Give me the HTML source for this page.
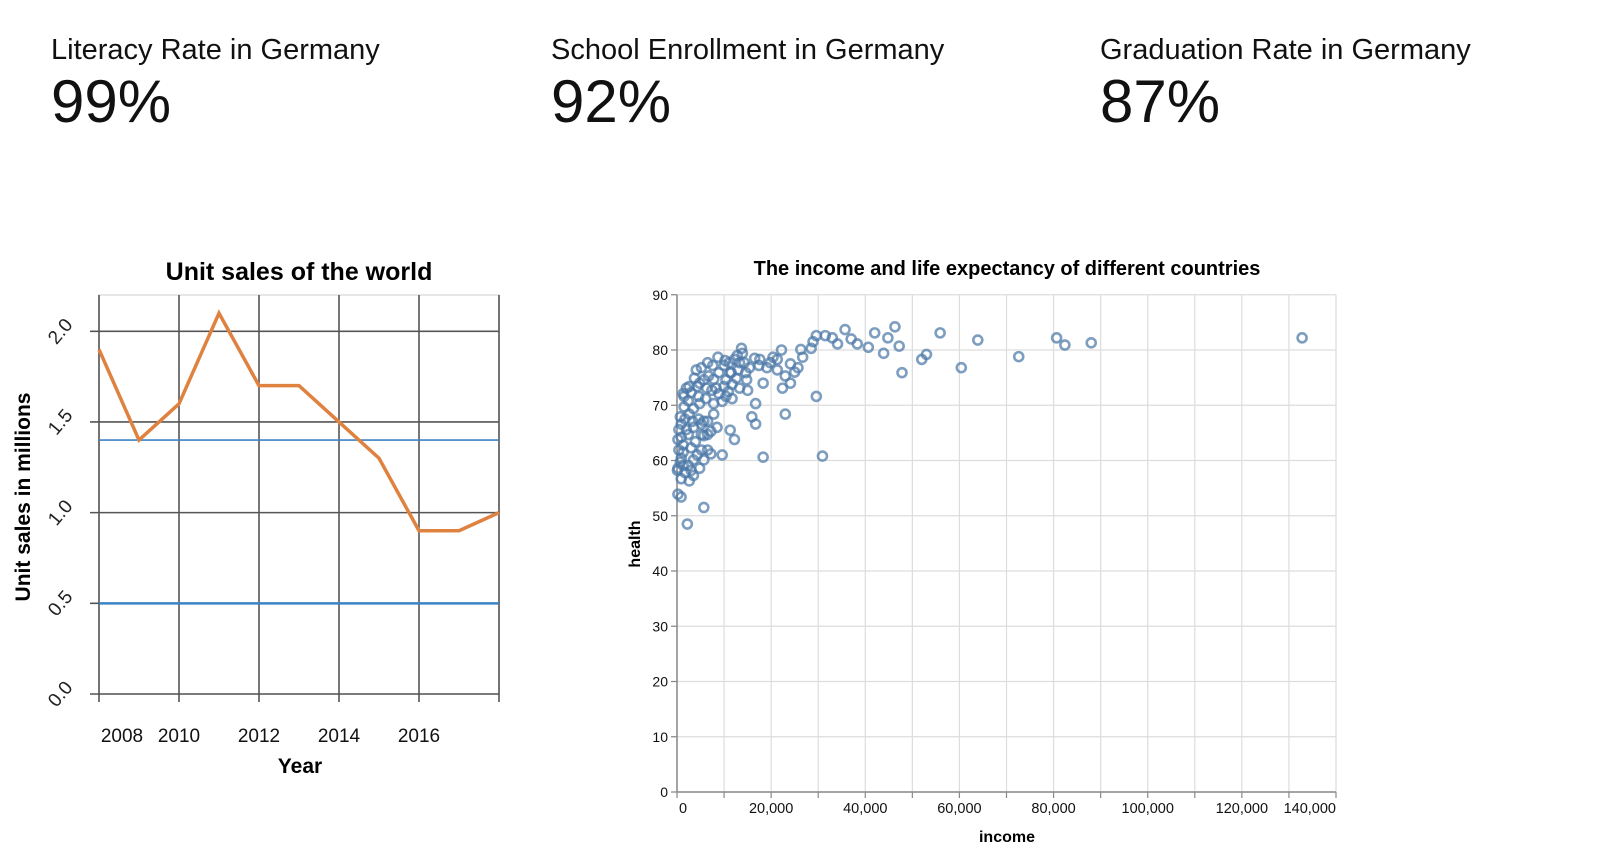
<!DOCTYPE html>
<html><head><meta charset="utf-8">
<style>
html,body{margin:0;padding:0;background:#fff;width:1600px;height:850px;overflow:hidden;font-family:"Liberation Sans",sans-serif;}
.kpi{position:absolute;top:33px;color:#111;}
.kpi .lbl{font-size:29px;line-height:34px;}
.kpi .val{font-size:60px;line-height:60px;margin-top:5px;}
svg{position:absolute;left:0;top:0;}
</style></head>
<body>
<div class="kpi" style="left:51px"><div class="lbl">Literacy Rate in Germany</div><div class="val">99%</div></div>
<div class="kpi" style="left:551px"><div class="lbl">School Enrollment in Germany</div><div class="val">92%</div></div>
<div class="kpi" style="left:1100px"><div class="lbl">Graduation Rate in Germany</div><div class="val">87%</div></div>

<svg id="chart" width="1600" height="850"></svg>
<script>
const years=[2008,2009,2010,2011,2012,2013,2014,2015,2016,2017,2018];
const sales=[1.9,1.4,1.6,2.1,1.7,1.7,1.5,1.3,0.9,0.9,1.0];
const refLines=[1.4,0.5];
const salesYTicks=[0,0.5,1.0,1.5,2.0];
const yearTicks=[2008,2010,2012,2014,2016];

const income=[132800,88000,82400,80650,72600,63900,60400,55900,53000,52000,47800,47200,46300,44800,43900,42000,40650,38300,37000,35700,34100,33000,31500,29600,28900,28500,30900,29600,26700,26300,25700,25000,24100,23000,22400,22200,21300,20400,18300,16700,16700,16500,15900,15000,14600,13700,12200,11300,9600,7200,5700,2200,870,200,
1300,2000,3000,4300,5700,6700,7800,8900,10000,11100,12200,13300,10400,11700,12600,7400,6100,4800,3500,2600,1700,900,400,900,1300,400,900,1300,200,1700,2400,3500,4300,3000,2400,3500,4600,5700,5200,3900,6500,5700,4800,3000,3500,2600,900,100,700,1300,2000,3300,5200,6500,7200,8500,5700,4600,7800,8900,10000,10900,9600,8300,11300,13000,14300,15400,17400,18300,19100,17600,14800,13300,11700,10400,7800,6500,5200,200,700,1500,2400,4100,4800,6300,7600,8700,10200,11500,12800,13900,19800,21300,23000,24100,5200,6500,3700,2600,1500];
const health=[82.2,81.3,80.9,82.2,78.8,81.8,76.8,83.1,79.2,78.3,75.9,80.7,84.2,82.2,79.4,83.1,80.5,81.1,82,83.7,81.1,82.2,82.6,82.6,81.5,80.3,60.8,71.6,78.7,80.1,76.8,76,77.5,68.4,73.1,80,78.3,78.7,60.6,70.3,66.6,78.5,67.9,72.7,75.9,80.3,63.8,65.5,61,61.2,51.5,48.5,53.4,53.9,
72.1,73.1,72.3,73.4,74.6,75.3,74.7,75.9,77.2,77.7,78.3,77.7,74.6,73.8,74.9,72.7,71.2,70.3,69.4,68.4,67.5,66.6,65.6,64.2,62.8,61.9,60.4,59.1,58.6,57.8,59.1,60.1,61,62.3,64.7,66,67.5,67.1,64.7,63.4,61.9,60.1,58.6,58.2,57.3,56.3,56.7,58.2,59.7,61.5,65.6,67.1,66.6,67.1,65.3,66,64.5,71.6,70.3,72.1,73.4,72.5,70.7,73.1,75.9,76.4,77.7,76.8,77.2,74,76.8,78.3,74.6,73.1,71.2,71.6,68.4,64.7,61.9,63.8,67.9,69.7,70.8,76.4,74,73.1,77.2,78.7,78.1,75.9,79,79.4,77.7,76.4,75.3,74,76.8,77.7,74.9,73.4,71.6];
const incomeTicks=[0,20000,40000,60000,80000,100000,120000,140000];
const healthTicks=[0,10,20,30,40,50,60,70,80,90];

const NS='http://www.w3.org/2000/svg';
const svg=document.getElementById('chart');
function mk(tag,attrs,parent){const e=document.createElementNS(NS,tag);for(const k in attrs)e.setAttribute(k,attrs[k]);(parent||svg).appendChild(e);return e;}

// ---- line chart ----
const L={x0:99,x1:499,y0:694,y1:295};
const lx=y=>L.x0+(y-2008)*(L.x1-L.x0)/10;
const ly=v=>L.y0-v*(L.y0-L.y1)/2.2;
const gL=mk('g',{});


mk('rect',{x:L.x0,y:L.y1,width:L.x1-L.x0,height:L.y0-L.y1,fill:'none',stroke:'#ddd','stroke-width':1.5},gL);
for(let y=2008;y<=2018;y++){ if(y%2===0){const l=mk('line',{x1:lx(y),x2:lx(y),y1:L.y1,y2:L.y0+8,stroke:'#555','stroke-width':1.6},gL);}}
salesYTicks.forEach(v=>{const l=mk('line',{x1:L.x0-9,x2:L.x1,y1:ly(v),y2:ly(v),stroke:'#555','stroke-width':1.6},gL);
 const t=mk('text',{x:0,y:0,'font-size':19,fill:'#222','text-anchor':'middle',transform:`translate(${L.x0-34},${ly(v)+4}) rotate(-50)`},gL);t.textContent=v.toFixed(1);});
refLines.forEach((v,i)=>{const l=mk('line',{x1:L.x0,x2:L.x1,y1:ly(v),y2:ly(v),stroke:'#3b82c4','stroke-width':i===1?2.5:1.6},gL);});
yearTicks.forEach((y,i)=>{const t=mk('text',{x:i===0?lx(y)+23:lx(y),y:742,'font-size':19,fill:'#111','text-anchor':'middle'},gL);t.textContent=y;});
const p=mk('polyline',{points:years.map((y,i)=>lx(y)+','+ly(sales[i])).join(' '),fill:'none',stroke:'#e0823f','stroke-width':3.5},gL);


let t=mk('text',{x:299,y:280,'font-size':25,'font-weight':'bold','text-anchor':'middle',fill:'#000'},gL);t.textContent='Unit sales of the world';


t=mk('text',{x:300,y:773,'font-size':21,'font-weight':'bold','text-anchor':'middle',fill:'#000'},gL);t.textContent='Year';


t=mk('text',{x:0,y:0,'font-size':21,'font-weight':'bold','text-anchor':'middle',fill:'#000',transform:'translate(30,497) rotate(-90)'},gL);t.textContent='Unit sales in millions';



// ---- scatter ----
const S={x0:677,x1:1336,y0:792,y1:294.75};
const sx=v=>S.x0+v*(S.x1-S.x0)/140000;
const sy=v=>S.y0-v*(S.y0-S.y1)/90;
const gS=mk('g',{});


for(let v=0;v<=140000;v+=10000){const l=mk('line',{x1:sx(v),x2:sx(v),y1:S.y1,y2:S.y0,stroke:'#ddd','stroke-width':1.2},gS);
 const tk=mk('line',{x1:sx(v),x2:sx(v),y1:S.y0,y2:S.y0+6,stroke:'#888','stroke-width':1.2},gS);}
healthTicks.forEach(v=>{const l=mk('line',{x1:S.x0-6,x2:S.x1,y1:sy(v),y2:sy(v),stroke:'#ddd','stroke-width':1.2},gS);
 const tk=mk('line',{x1:S.x0-6,x2:S.x0,y1:sy(v),y2:sy(v),stroke:'#888','stroke-width':1.2},gS);
 const tt=mk('text',{x:S.x0-9,y:sy(v)+5,'font-size':14,fill:'#111','text-anchor':'end'},gS);tt.textContent=v;});
mk('line',{x1:S.x0,x2:S.x0,y1:S.y1,y2:S.y0,stroke:'#888','stroke-width':1.5},gS);
mk('line',{x1:S.x0,x2:S.x1,y1:S.y0,y2:S.y0,stroke:'#888','stroke-width':1.5},gS);
incomeTicks.forEach((v,i)=>{const tt=mk('text',{x:i===0?sx(v)+2:(i===incomeTicks.length-1?S.x1:sx(v)),y:S.y0+21,'font-size':14.5,fill:'#111','text-anchor':i===0?'start':(i===incomeTicks.length-1?'end':'middle')},gS);tt.textContent=v.toLocaleString('en-US');});
income.forEach((v,i)=>{const c=mk('circle',{cx:sx(v),cy:sy(health[i]),r:4.5,fill:'none',stroke:'#4c78a8','stroke-width':2.6,'stroke-opacity':0.72},gS);
 
 });
t=mk('text',{x:1007,y:275,'font-size':20,'font-weight':'bold','text-anchor':'middle',fill:'#000'},gS);t.textContent='The income and life expectancy of different countries';


t=mk('text',{x:1007,y:842,'font-size':16,'font-weight':'bold','text-anchor':'middle',fill:'#000'},gS);t.textContent='income';


t=mk('text',{x:0,y:0,'font-size':16,'font-weight':'bold','text-anchor':'middle',fill:'#000',transform:'translate(640,544) rotate(-90)'},gS);t.textContent='health';


</script>
</body></html>
